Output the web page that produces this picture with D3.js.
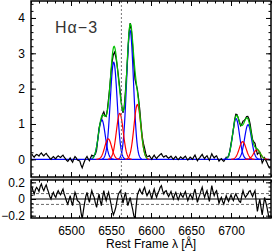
<!DOCTYPE html>
<html>
<head>
<meta charset="utf-8">
<script src="https://cdn.jsdelivr.net/npm/d3@7"></script>
<style>
  body { margin: 0; background: #fff; }
  text { font-family: "Liberation Sans", Arial, sans-serif; }
  .axis path { display: none; }
  .axis line { stroke: #000; stroke-width: 1; }
  .axis text { font-size: 12px; fill: #000; }
</style>
</head>
<body>
<div id="chart"></div>
<script>
// gaussian components: centre (A), peak height, sigma (A)
var blueCenters = [6538.5, 6553.4, 6573.8, 6706.3, 6721.3];
var blueAmps = [1.12, 2.75, 3.65, 1.15, 0.98];
var blueSigmas = [4.3, 4.3, 4.3, 4.3, 4.3];

var redCenters = [6546.5, 6561.0, 6583.0, 6714.6, 6732.5];
var redAmps = [0.58, 1.3, 1.55, 0.5, 0.27];
var redSigmas = [4.3, 4.3, 4.3, 4.3, 4.3];

// residuals (data - fit), sampled every 1.5 A from 6451 A
var residStart = 6451;
var residStep = 1.5;
var residuals = [
  0.15, 0.10, 0.06, 0.11, 0.14, 0.12, 0.09, 0.15, 0.18, 0.13,
  0.10, 0.14, 0.17, 0.12, 0.08, 0.03, 0.00, 0.05, 0.08, 0.04,
  0.02, 0.07, 0.10, 0.07, 0.05, 0.09, 0.12, 0.06, 0.02, -0.03,
  -0.06, -0.01, 0.04, -0.03, -0.08, 0.01, 0.08, 0.04, -0.02, -0.03,
  -0.05, -0.16, -0.24, -0.14, -0.05, 0.03, 0.08, 0.01, -0.04, 0.04,
  0.10, 0.05, 0.02, -0.05, -0.10, -0.01, 0.06, -0.02, -0.08, 0.02,
  0.10, 0.03, -0.02, 0.04, 0.08, 0.01, -0.06, -0.14, -0.19, -0.15,
  -0.10, -0.02, 0.05, 0.08, 0.10, 0.02, -0.05, 0.02, 0.08, 0.00,
  -0.08, -0.03, 0.02, -0.06, -0.12, -0.20, -0.24, -0.08, 0.05, 0.09,
  0.12, 0.08, 0.06, 0.11, 0.14, 0.08, 0.04, 0.07, 0.10, 0.05,
  0.00, 0.07, 0.12, 0.06, 0.02, 0.07, 0.10, 0.14, 0.16, 0.10,
  0.06, 0.09, 0.10, 0.06, 0.03, 0.06, 0.09, 0.04, 0.00, 0.05,
  0.08, 0.03, -0.01, 0.03, 0.07, 0.04, 0.02, 0.06, 0.09, 0.03,
  -0.02, 0.02, 0.06, 0.03, 0.00, 0.07, 0.12, 0.04, -0.04, 0.01,
  0.05, 0.10, 0.14, 0.07, 0.02, 0.07, 0.10, 0.03, -0.03, 0.07,
  0.16, 0.09, 0.04, 0.08, 0.10, 0.02, -0.05, -0.01, 0.02, -0.03,
  -0.06, -0.01, 0.04, 0.00, -0.03, 0.01, 0.05, 0.01, -0.02, 0.03,
  0.06, 0.03, 0.00, -0.03, -0.04, 0.04, 0.10, 0.05, 0.02, 0.04,
  0.06, 0.09, 0.10, 0.06, 0.03, 0.07, 0.10, -0.03, -0.15, -0.07,
  0.00, -0.10, -0.19, -0.08, 0.02, -0.04, -0.10, -0.18, -0.24, -0.24
];

var xTicks = [6500, 6550, 6600, 6650, 6700];
var topYTicks = [0, 1, 2, 3, 4];
var botYTicks = [-0.2, 0, 0.2];
var haRest = 6563;
var residSigma = 0.065;
var label = "H\u03B1\u22123";

var width = 273, height = 251;
var left = 31, right = 271;

var svg = d3.select("#chart").append("svg")
  .attr("width", width)
  .attr("height", height);

var x = d3.scaleLinear().domain([6450, 6750]).range([left, right]);
var yTop = d3.scaleLinear().domain([-0.5, 4.48]).range([177, 1]);
var yBot = d3.scaleLinear().domain([-0.228, 0.228]).range([218, 180]);

function gauss(l, c, a, s) {
  return a * Math.exp(-((l - c) * (l - c)) / (2 * s * s));
}

var fine = d3.range(6450, 6750.01, 0.5);

function model(l) {
  var v = 0;
  blueCenters.forEach((c, i) => v += gauss(l, c, blueAmps[i], blueSigmas[i]));
  redCenters.forEach((c, i) => v += gauss(l, c, redAmps[i], redSigmas[i]));
  return v;
}

var resid = residuals.map((r, i) => ({ l: residStart + i * residStep, r: r }));
var observed = resid.map(d => ({ l: d.l, v: model(d.l) + d.r }));

// clip paths
var defs = svg.append("defs");
defs.append("clipPath").attr("id", "clipTop").append("rect")
  .attr("x", left).attr("y", 1).attr("width", right - left).attr("height", 176);
defs.append("clipPath").attr("id", "clipBot").append("rect")
  .attr("x", left).attr("y", 180).attr("width", right - left).attr("height", 38);

// gray band between panels
svg.append("rect")
  .attr("x", left).attr("y", 177).attr("width", right - left).attr("height", 3)
  .attr("fill", "#c8c8c8");

var gTop = svg.append("g").attr("clip-path", "url(#clipTop)");
var gBot = svg.append("g").attr("clip-path", "url(#clipBot)");

// top panel
gTop.append("line")
  .attr("x1", left).attr("x2", right)
  .attr("y1", yTop(0)).attr("y2", yTop(0))
  .attr("stroke", "#0000ff").attr("stroke-width", 1.2);

var lineTop = d3.line().x(d => x(d.l)).y(d => yTop(d.v));

gTop.append("path")
  .datum(observed)
  .attr("d", lineTop)
  .attr("fill", "none").attr("stroke", "#000").attr("stroke-width", 1.2);

function drawComp(c, a, s, colour) {
  var pts = fine.filter(l => Math.abs(l - c) < 3.5 * s).map(l => ({ l: l, v: gauss(l, c, a, s) }));
  gTop.append("path")
    .datum(pts)
    .attr("d", lineTop)
    .attr("fill", "none").attr("stroke", colour).attr("stroke-width", 1.2);
}
blueCenters.forEach((c, i) => drawComp(c, blueAmps[i], blueSigmas[i], "#0000ff"));
redCenters.forEach((c, i) => drawComp(c, redAmps[i], redSigmas[i], "#ff0000"));

var total = fine.map(l => ({ l: l, v: model(l) }));
gTop.append("path")
  .datum(total)
  .attr("d", d3.line().defined(d => d.v > 0.02).x(d => x(d.l)).y(d => yTop(d.v)))
  .attr("fill", "none").attr("stroke", "#00c000").attr("stroke-width", 1.2);

// bottom panel
gBot.append("line")
  .attr("x1", left).attr("x2", right)
  .attr("y1", yBot(0)).attr("y2", yBot(0))
  .attr("stroke", "#000").attr("stroke-width", 1);
[residSigma, -residSigma].forEach(v => {
  gBot.append("line")
    .attr("x1", left).attr("x2", right)
    .attr("y1", yBot(v)).attr("y2", yBot(v))
    .attr("stroke", "#444").attr("stroke-width", 0.8)
    .attr("stroke-dasharray", "3,2");
});
gBot.append("path")
  .datum(resid)
  .attr("d", d3.line().x(d => x(d.l)).y(d => yBot(d.r)))
  .attr("fill", "none").attr("stroke", "#000").attr("stroke-width", 1.2);

// H-alpha rest wavelength
svg.append("line")
  .attr("x1", x(haRest)).attr("x2", x(haRest))
  .attr("y1", 1).attr("y2", 218)
  .attr("stroke", "#777").attr("stroke-width", 1)
  .attr("stroke-dasharray", "2,2");

// axes
var xMinor = d3.range(6450, 6751, 10);

function xAxes(yPos, isBottom, labels) {
  var major = (isBottom ? d3.axisBottom(x) : d3.axisTop(x))
    .tickValues(xTicks).tickSize(-5).tickPadding(8)
    .tickFormat(labels ? d3.format("d") : "");
  var minor = (isBottom ? d3.axisBottom(x) : d3.axisTop(x))
    .tickValues(xMinor).tickSize(-2.5).tickFormat("");
  svg.append("g").attr("class", "axis").attr("transform", `translate(0,${yPos})`).call(minor);
  svg.append("g").attr("class", "axis").attr("transform", `translate(0,${yPos})`).call(major);
}
xAxes(1, false, false);
xAxes(177, true, false);
xAxes(180, false, false);
xAxes(218, true, true);

function yAxes(scale, majors, minors, fmt) {
  svg.append("g").attr("class", "axis").attr("transform", `translate(${left},0)`)
    .call(d3.axisLeft(scale).tickValues(minors).tickSize(-2.5).tickFormat(""));
  svg.append("g").attr("class", "axis").attr("transform", `translate(${left},0)`)
    .call(d3.axisLeft(scale).tickValues(majors).tickSize(-5).tickPadding(6).tickFormat(fmt));
  svg.append("g").attr("class", "axis").attr("transform", `translate(${right},0)`)
    .call(d3.axisRight(scale).tickValues(minors).tickSize(-2.5).tickFormat(""));
  svg.append("g").attr("class", "axis").attr("transform", `translate(${right},0)`)
    .call(d3.axisRight(scale).tickValues(majors).tickSize(-5).tickFormat(""));
}
yAxes(yTop, topYTicks, d3.range(-0.4, 4.41, 0.2), d3.format("d"));
yAxes(yBot, botYTicks, d3.range(-0.2, 0.201, 0.05), d => d === 0 ? "0" : d3.format(".1f")(d).replace("-", "\u2212"));

// frames
svg.append("rect")
  .attr("x", left).attr("y", 1).attr("width", right - left).attr("height", 176)
  .attr("fill", "none").attr("stroke", "#000").attr("stroke-width", 1.5);
svg.append("rect")
  .attr("x", left).attr("y", 180).attr("width", right - left).attr("height", 38)
  .attr("fill", "none").attr("stroke", "#000").attr("stroke-width", 1.5);

// panel label
svg.append("text")
  .attr("x", 55).attr("y", 33)
  .style("font-size", "16px").style("letter-spacing", "1px")
  .attr("fill", "#333")
  .text(label);

// x axis title
svg.append("text")
  .attr("x", (left + right) / 2).attr("y", 248)
  .attr("text-anchor", "middle")
  .style("font-size", "12px")
  .text("Rest Frame \u03BB [\u00C5]");
</script>
</body>
</html>
